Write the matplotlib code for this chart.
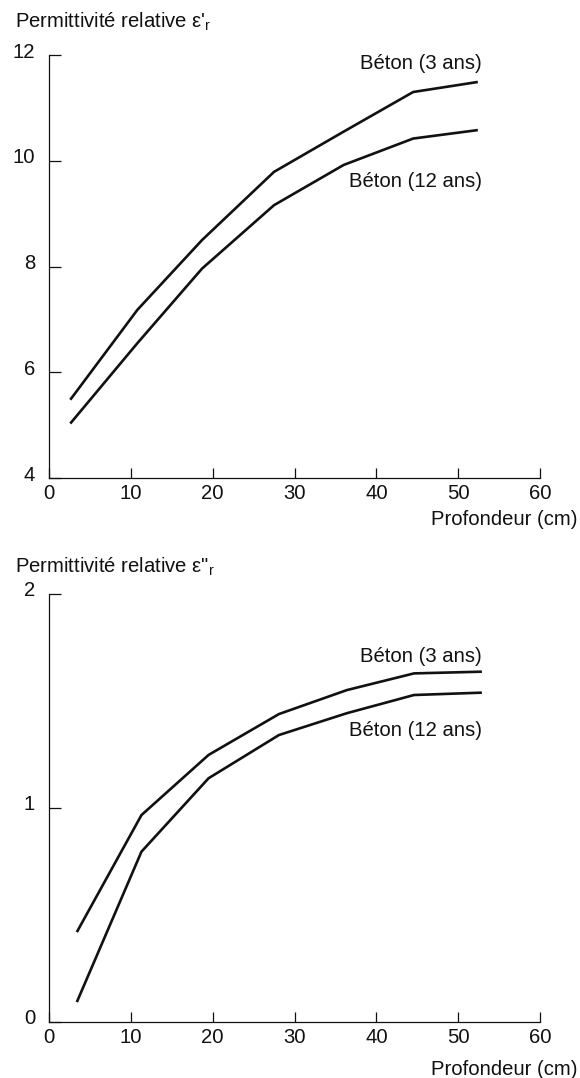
import matplotlib
matplotlib.use("Agg")
import matplotlib.pyplot as plt
import matplotlib.transforms as mtransforms

plt.rcParams['font.family'] = ['Liberation Sans', 'DejaVu Sans']
plt.rcParams['mathtext.fontset'] = 'custom'
plt.rcParams['mathtext.rm'] = 'Liberation Sans'
plt.rcParams['mathtext.it'] = 'Liberation Sans'

# ---- data ----
depth_top = [2.6, 10.8, 18.7, 27.5, 36.0, 44.5, 52.4]
eps1_3ans = [5.48, 7.18, 8.50, 9.79, 10.55, 11.30, 11.49]
eps1_12ans = [5.03, 6.55, 7.96, 9.16, 9.92, 10.42, 10.58]

depth_bot = [3.4, 11.3, 19.5, 28.1, 36.4, 44.6, 52.9]
eps2_3ans = [0.42, 0.967, 1.248, 1.439, 1.551, 1.629, 1.637]
eps2_12ans = [0.093, 0.796, 1.139, 1.341, 1.443, 1.528, 1.539]

xticks = [0, 10, 20, 30, 40, 50, 60]
yticks_top = [4, 6, 8, 10, 12]
yticks_bot = [0, 1, 2]
label_3 = "Béton (3 ans)"
label_12 = "Béton (12 ans)"
ylabel_top = "Permittivité relative ε'$_\\mathregular{r}$"
ylabel_bot = "Permittivité relative ε\"$_\\mathregular{r}$"
xlabel = "Profondeur (cm)"

W, H = 580, 1078
fig = plt.figure(figsize=(W / 100, H / 100), dpi=100)

def ax_rect(l, r, t, b):
    return [l / W, 1 - b / H, (r - l) / W, (b - t) / H]

ax1 = fig.add_axes(ax_rect(49, 540, 55, 478))
ax2 = fig.add_axes(ax_rect(49, 540, 594, 1022))

FS = 14.6
LC = '#111111'

def style(ax, yticks, ylim, ylabel, ylab_y, xlab_y):
    ax.set_xlim(0, 60)
    ax.set_ylim(*ylim)
    ax.set_xticks(xticks)
    ax.set_yticks(yticks)
    ax.set_xticklabels([str(v) for v in xticks])
    ax.set_yticklabels([str(v) for v in yticks])
    for s in ['top', 'right']:
        ax.spines[s].set_visible(False)
    for s in ['left', 'bottom']:
        ax.spines[s].set_linewidth(0.9)
        ax.spines[s].set_color(LC)
    ax.tick_params(axis='y', direction='in', length=8.6, width=0.9,
                   pad=10, labelsize=FS, colors=LC)
    ax.tick_params(axis='x', direction='in', length=7, width=0.9,
                   pad=4, labelsize=FS, colors=LC)
    off = mtransforms.ScaledTranslation(0, 5 / 100, fig.dpi_scale_trans)
    for lab in ax.get_yticklabels():
        lab.set_transform(lab.get_transform() + off)
    ax.text(-34 / 491, ylab_y, ylabel, transform=ax.transAxes,
            ha='left', va='baseline', fontsize=FS, color=LC)
    ax.set_xlabel(xlabel, fontsize=FS, color=LC, ha='right', va='center')
    ax.xaxis.set_label_coords(1.077, xlab_y)

ax1.plot(depth_top, eps1_3ans, color=LC, lw=1.9, solid_capstyle='butt')
ax1.plot(depth_top, eps1_12ans, color=LC, lw=1.9, solid_capstyle='butt')
ax1.text(52.9, 11.83, label_3, ha='right', va='center', fontsize=FS, color=LC)
ax1.text(52.9, 9.60, label_12, ha='right', va='center', fontsize=FS, color=LC)
style(ax1, yticks_top, (4, 12), ylabel_top, 1.064, -0.099)

ax2.plot(depth_bot, eps2_3ans, color=LC, lw=1.9, solid_capstyle='butt')
ax2.plot(depth_bot, eps2_12ans, color=LC, lw=1.9, solid_capstyle='butt')
ax2.text(52.9, 1.707, label_3, ha='right', va='center', fontsize=FS, color=LC)
ax2.text(52.9, 1.364, label_12, ha='right', va='center', fontsize=FS, color=LC)
style(ax2, yticks_bot, (0, 2), ylabel_bot, 1.049, -0.110)

fig.savefig("out.png", dpi=100)
